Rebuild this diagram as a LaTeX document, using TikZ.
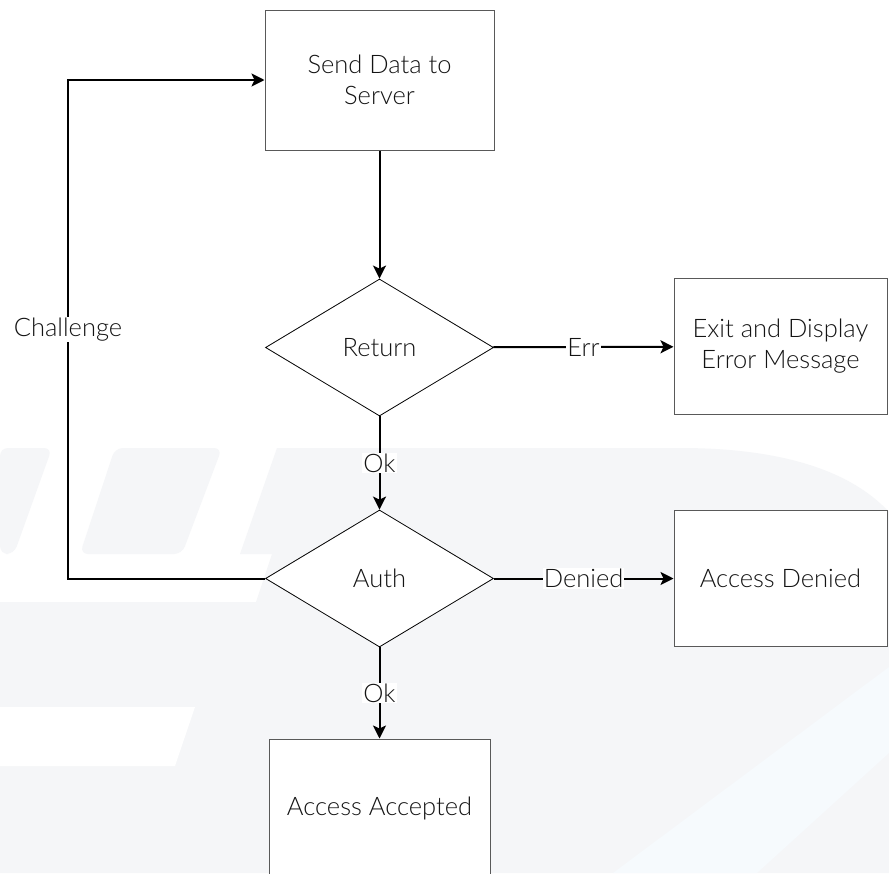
\documentclass[tikz,border=0pt]{standalone}
\usepackage{fontspec}
\setmainfont{Lato}[UprightFont=* Light]
\usetikzlibrary{shapes.geometric, arrows.meta}
\definecolor{wmgray}{RGB}{245,246,248}
\definecolor{wmblue}{RGB}{246,250,253}
\begin{document}
\begin{tikzpicture}[x=1pt, y=-1pt,
    every node/.style={font=\fontsize{25.5}{31}\selectfont, text=black!92},
    box/.style={draw=black!65, line width=1pt, fill=white, minimum width=229pt, minimum height=140pt, align=center, inner sep=0pt},
    sidebox/.style={box, minimum width=213pt, minimum height=136pt},
    decision/.style={diamond, draw=black, line width=.8pt, fill=white, minimum width=228pt, minimum height=137pt, inner sep=0pt},
    lbl/.style={fill=white, inner sep=1pt},
    link/.style={line width=2pt, -{Stealth[length=13pt, width=13pt, inset=3pt]}}]
        \clip (0,0) rectangle (889,873);
        \fill[white] (0,0) rectangle (889,873);
        \fill[wmgray, rounded corners=8pt] (0,448) -- (52,448) -- (14,554) -- (0,554) -- cycle;
        \fill[wmgray, rounded corners=8pt] (115,448) -- (222,448) -- (182,554) -- (80,554) -- cycle;
        \fill[wmgray] (277,448) -- (680,448) .. controls (780,448) and (850,470) .. (889,512) -- (889,873) -- (0,873) -- (0,602) -- (256,602) -- (272,554) -- (240,554) -- cycle;
        \fill[white] (0,707) -- (195,707) -- (175,766) -- (0,766) -- cycle;
        \fill[wmblue] (613,873) -- (889,667) -- (889,753) -- (757,873) -- cycle;
        \node[box] (send) at (379.5,80) {Send Data to\\Server};
        \node[decision] (ret) at (379.5,347.5) {Return};
        \node[sidebox] (exit) at (780.5,346.5) {Exit and Display\\Error Message};
        \node[decision] (auth) at (379.5,578.5) {Auth};
        \node[sidebox] (denied) at (780.5,578.5) {Access Denied};
        \node[box, minimum width=221pt, minimum height=138pt] (accept) at (379.5,808) {Access Accepted};
        \coordinate (bend) at (68,578.5);
        \draw[link] (send) -- (ret);
        \draw[link] (ret) -- node[lbl] {Err} (exit);
        \draw[link] (ret) -- node[lbl] {Ok} (auth);
        \draw[link] (auth) -- node[lbl] {Denied} (denied);
        \draw[link] (auth) -- node[lbl] {Ok} (accept);
        \draw[link] (auth.west) -- (bend) -- node[lbl] {Challenge} (bend |- send.west) -- (send.west);
    \end{tikzpicture}
\end{document}
